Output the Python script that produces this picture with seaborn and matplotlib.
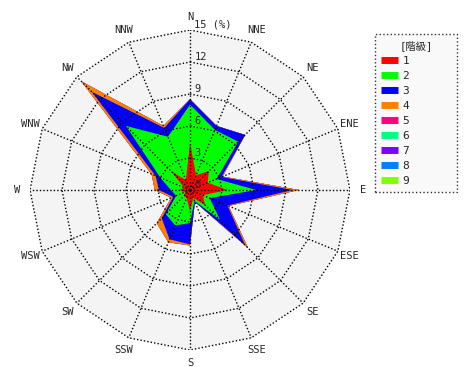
import numpy as np
import pandas as pd
import matplotlib
matplotlib.use('Agg')
import matplotlib.pyplot as plt
import seaborn as sns
from matplotlib.lines import Line2D

# 風向 (16方位, 北から時計回り)
directions = ['N', 'NNE', 'NE', 'ENE', 'E', 'ESE', 'SE', 'SSE',
              'S', 'SSW', 'SW', 'WSW', 'W', 'WNW', 'NW', 'NNW']

# 階級ごとの出現率 (%)
freq_1 = [4.4, 1.5, 2.5, 1.8, 3.5, 1.3, 2.0, 0.8, 2.0, 0.8, 0.8, 0.5, 1.0, 0.6, 2.5, 1.0]
freq_2 = [3.6, 4.6, 3.9, 0.9, 2.7, 0.7, 2.0, 0.3, 1.1, 2.8, 2.4, 0.9, 0.8, 2.4, 6.0, 4.4]
freq_3 = [0.5, 0.4, 0.9, 0.5, 3.4, 1.8, 3.3, 0.1, 2.0, 1.4, 0.55, 0.3, 1.1, 0.5, 4.5, 0.9]
freq_4 = [0.0, 0.0, 0.0, 0.1, 0.6, 0.1, 0.4, 0.0, 0.1, 0.3, 0.65, 0.2, 0.4, 0.4, 1.4, 0.2]
freq_5 = [0, 0, 0, 0, 0, 0, 0, 0, 0, 0, 0, 0, 0, 0, 0, 0]
freq_6 = [0, 0, 0, 0, 0, 0, 0, 0, 0, 0, 0, 0, 0, 0, 0, 0]
freq_7 = [0, 0, 0, 0, 0, 0, 0, 0, 0, 0, 0, 0, 0, 0, 0, 0]
freq_8 = [0, 0, 0, 0, 0, 0, 0, 0, 0, 0, 0, 0, 0, 0, 0, 0]
freq_9 = [0, 0, 0, 0, 0, 0, 0, 0, 0, 0, 0, 0, 0, 0, 0, 0]

class_labels = ['1', '2', '3', '4', '5', '6', '7', '8', '9']
class_colors = ['#ff0000', '#00ff00', '#0000ff', '#ff8000', '#ff0080',
                '#00ff80', '#8000ff', '#0080ff', '#80ff00']

ring_values = [3, 6, 9, 12, 15]
ring_labels = ['3', '6', '9', '12', '15 (%)']
r_max = 15

sns.set_style('white')
plt.rcParams['font.family'] = ['DejaVu Sans Mono', 'Noto Sans CJK JP']

df = pd.DataFrame(dict(zip(class_labels, [freq_1, freq_2, freq_3, freq_4, freq_5,
                                          freq_6, freq_7, freq_8, freq_9])),
                  index=directions)
cum = df.cumsum(axis=1)

theta = np.deg2rad(np.arange(len(directions)) * 360 / len(directions))


def to_xy(r):
    r = np.asarray(r, dtype=float)
    return r * np.sin(theta), r * np.cos(theta)


def closed(a):
    return np.append(a, a[0])


fig = plt.figure(figsize=(4.7, 3.8), dpi=100)
ax = fig.add_axes([30 / 470, 30 / 380, 320 / 470, 320 / 380])
ax.set_xlim(-r_max, r_max)
ax.set_ylim(-r_max, r_max)
ax.axis('off')

# 背景
bx, by = to_xy(np.full(len(directions), r_max))
ax.fill(bx, by, color='#f4f4f4', lw=0, zorder=0)

# 積み上げ (外側の階級から描く)
palette = sns.color_palette(class_colors)
for k in reversed(range(len(class_labels))):
    x, y = to_xy(cum.iloc[:, k].values)
    ax.fill(x, y, color=palette[k], lw=0, zorder=1)

# グリッド
dot = (0, (1, 1.5))
for r in ring_values:
    x, y = to_xy(np.full(len(directions), r))
    ax.plot(closed(x), closed(y), color='black', ls=dot, lw=1, zorder=3)
for t in theta:
    ax.plot([0, r_max * np.sin(t)], [0, r_max * np.cos(t)],
            color='black', ls=dot, lw=1, zorder=3)

# 目盛ラベル
ax.text(0.4, 0.15, '0', fontsize=7.5, ha='left', va='baseline', zorder=4)
for r, lab in zip(ring_values, ring_labels):
    ax.text(0.4, r + 0.2, lab, fontsize=7.5, ha='left', va='baseline', zorder=4)

# 方位ラベル
lx, ly = to_xy(np.full(len(directions), 16.2))
for d, x, y in zip(directions, lx, ly):
    ax.text(x, y, d, fontsize=7.5, ha='center', va='center', clip_on=False)

handles = [Line2D([], [], color=c, lw=5, solid_capstyle='butt') for c in class_colors]
leg = fig.legend(handles, class_labels, title='[階級]', loc='upper left',
                 bbox_to_anchor=(375 / 470, 1 - 34 / 380 - 0.1, 82 / 470, 0.1),
                 mode='expand', borderaxespad=0,
                 fontsize=8, title_fontsize=7.5, handlelength=1.5, handletextpad=0.4,
                 labelspacing=0.45, borderpad=0.55, fancybox=False, frameon=True)
frame = leg.get_frame()
frame.set_linestyle(':')
frame.set_edgecolor('black')
frame.set_facecolor('#f8f8f8')
frame.set_linewidth(1)

fig.savefig('out.png', dpi=100)
